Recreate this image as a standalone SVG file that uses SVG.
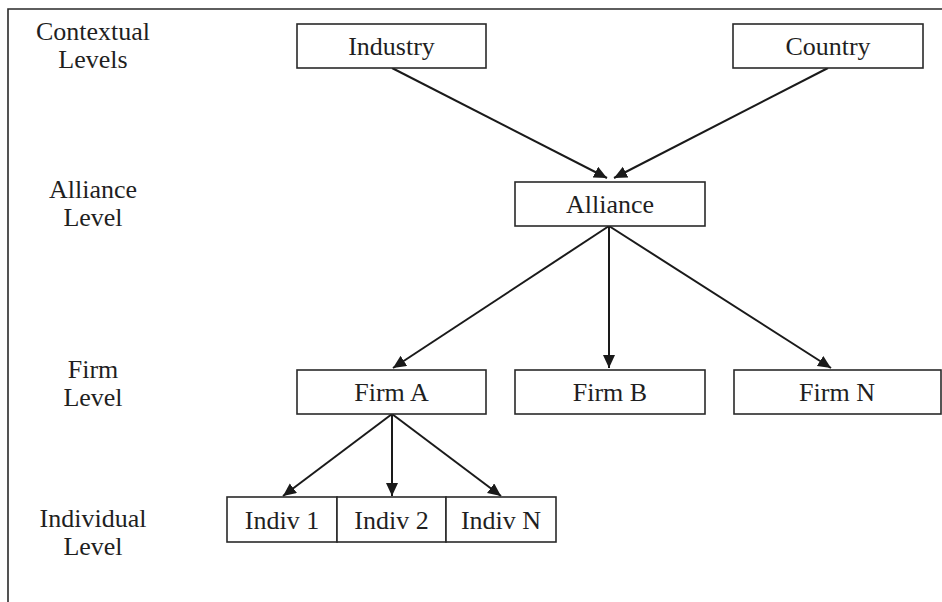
<svg xmlns="http://www.w3.org/2000/svg" width="942" height="602" viewBox="0 0 942 602">
<defs>
<marker id="ah" markerUnits="userSpaceOnUse" markerWidth="14" markerHeight="13" refX="13" refY="6" orient="auto">
<path d="M0,0 L13,6 L0,12 z" fill="#1a1a1a"/>
</marker>
<style>
.box{fill:#fff;stroke:#2a2a2a;stroke-width:1.6}
.t{font-family:"Liberation Serif","Times New Roman",serif;font-size:26px;fill:#1f1f1f;text-anchor:middle}
.c{stroke:#1a1a1a;stroke-width:2;fill:none;marker-end:url(#ah)}
.frame{stroke:#2a2a2a;stroke-width:1.6;fill:none}
</style>
</defs>
<rect width="942" height="602" fill="#fff"/>
<path class="frame" d="M942,9 L8,9 L8,602"/>
<g id="labels">
<text class="t" x="93" y="40">Contextual</text>
<text class="t" x="93" y="68">Levels</text>
<text class="t" x="93" y="198">Alliance</text>
<text class="t" x="93" y="226">Level</text>
<text class="t" x="93" y="378">Firm</text>
<text class="t" x="93" y="406">Level</text>
<text class="t" x="93" y="527">Individual</text>
<text class="t" x="93" y="555">Level</text>
</g>
<g id="connectors">
<line class="c" x1="392" y1="68" x2="607" y2="178"/>
<line class="c" x1="828" y1="68" x2="614" y2="178"/>
<line class="c" x1="609" y1="226" x2="393" y2="368"/>
<line class="c" x1="609" y1="226" x2="609" y2="368"/>
<line class="c" x1="609" y1="226" x2="831" y2="368"/>
<line class="c" x1="392" y1="414" x2="283" y2="496"/>
<line class="c" x1="392" y1="414" x2="392" y2="496"/>
<line class="c" x1="392" y1="414" x2="501" y2="496"/>
</g>
<g id="industry"><rect class="box" x="297" y="24" width="189" height="44"/><text class="t" x="391.5" y="55">Industry</text></g>
<g id="country"><rect class="box" x="733" y="24" width="190" height="44"/><text class="t" x="828" y="55">Country</text></g>
<g id="alliance"><rect class="box" x="515" y="182" width="190" height="44"/><text class="t" x="610" y="213">Alliance</text></g>
<g id="firmA"><rect class="box" x="297" y="370" width="189" height="44"/><text class="t" x="391.5" y="401">Firm A</text></g>
<g id="firmB"><rect class="box" x="515" y="370" width="190" height="44"/><text class="t" x="610" y="401">Firm B</text></g>
<g id="firmN"><rect class="box" x="734" y="370" width="207" height="44"/><text class="t" x="837" y="401">Firm N</text></g>
<g id="indiv1"><rect class="box" x="227" y="497" width="110" height="45"/><text class="t" x="282" y="529">Indiv 1</text></g>
<g id="indiv2"><rect class="box" x="337" y="497" width="109" height="45"/><text class="t" x="391.5" y="529">Indiv 2</text></g>
<g id="indivN"><rect class="box" x="446" y="497" width="110" height="45"/><text class="t" x="501" y="529">Indiv N</text></g>
</svg>
